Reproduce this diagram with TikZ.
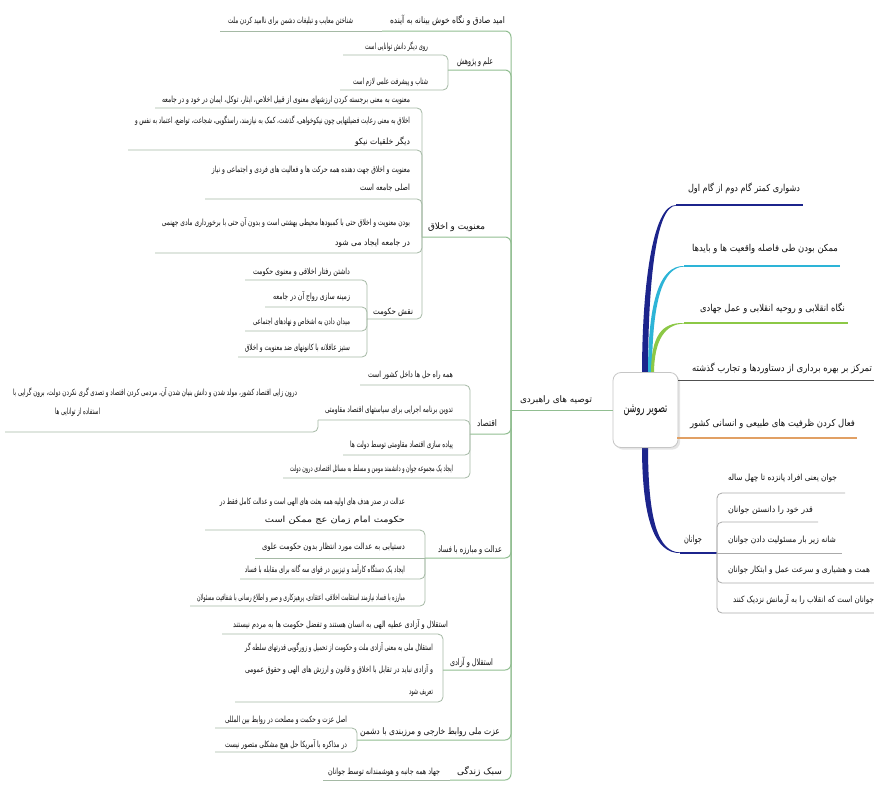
\documentclass[tikz,border=0pt]{standalone}
\usepackage{fontspec}
\usepackage{graphicx}
\newfontfamily\fafont[Script=Arabic]{DejaVu Sans}
\TeXXeTstate=1
\usetikzlibrary{shadows,backgrounds}
\definecolor{navy}{RGB}{28,36,140}
\definecolor{cyanl}{RGB}{45,180,215}
\definecolor{greenl}{RGB}{140,200,70}
\definecolor{grayd}{RGB}{80,80,80}
\definecolor{orangel}{RGB}{225,160,100}
\definecolor{tlc}{RGB}{145,190,145}
\definecolor{clc}{RGB}{165,185,165}
\definecolor{jlc}{RGB}{170,170,170}
\definecolor{tcol}{RGB}{15,15,15}
\newcommand{\ft}[2]{\resizebox{#1pt}{\height}{#2}}
\begin{document}
\begin{tikzpicture}[x=1pt,y=-1pt,
  txtbase/.style={inner sep=0pt, outer sep=0pt, text=tcol},
  ctxt/.style={txtbase, anchor=east, font=\fafont\fontsize{8.5}{10}\selectfont},
  ttxt/.style={txtbase, anchor=east, font=\fafont\fontsize{9}{11}\selectfont},
  rtxt/.style={txtbase, anchor=east, font=\fafont\fontsize{9.5}{11}\selectfont},
  ml/.style={align=right, font=\fafont\fontsize{8.5}{#1}\selectfont},
  tline/.style={draw=tlc, line width=1pt, rounded corners=6pt},
  cline/.style={draw=clc, line width=0.8pt, rounded corners=5pt},
  jline/.style={draw=jlc, line width=0.8pt, rounded corners=5pt}]
\useasboundingbox (0,0) rectangle (874,787);

% centre
\node[draw=gray!45, line width=0.8pt, fill=white, rounded corners=8pt, minimum width=65pt, minimum height=75pt, drop shadow={opacity=0.2}, inner sep=0pt, font=\fafont\fontsize{13}{15}\selectfont, text=tcol] (center) at (645.5,410) {\ft{44}{\beginR تصویر روشن\endR}};

% main left node
\coordinate (M-l) at (511,410);
\node[ttxt, anchor=center] (M) at (556,400) {\ft{72}{\beginR توصیه های راهبردی\endR}};
\draw[tline] (M-l) -- (center.west |- M-l);

% T1
\coordinate (T1-l) at (382,31);
\node[ttxt] (T1) at (505,20) {\ft{115}{\beginR امید صادق و نگاه خوش بینانه به آینده\endR}};
\draw[tline] (T1-l) -- (T1-l -| M-l) -- (M-l);
\coordinate (C11-l) at (220,31);
\node[ctxt] (C11) at (353,21) {\ft{125}{\beginR شناختن معایب و تبلیغات دشمن برای ناامید کردن ملت\endR}};
\draw[cline] (C11-l) -- (T1-l);

% T2
\coordinate (T2-l) at (448,70);
\node[ttxt] (T2) at (493,62) {\ft{36}{\beginR علم و پژوهش\endR}};
\draw[tline] (T2-l) -- (T2-l -| M-l) -- (M-l);
\coordinate (C21-l) at (343,55);
\node[ctxt] (C21) at (428,47) {\ft{63}{\beginR روی دیگر دانش توانایی است\endR}};
\draw[cline] (C21-l) -- (C21-l -| T2-l) -- (T2-l);
\coordinate (C22-l) at (340,90);
\node[ctxt] (C22) at (428,82) {\ft{75}{\beginR شتاب و پیشرفت علمی لازم است\endR}};
\draw[cline] (C22-l) -- (C22-l -| T2-l) -- (T2-l);

% T3
\coordinate (T3-l) at (422,237);
\node[ttxt] (T3) at (485,227) {\ft{57}{\beginR معنویت و اخلاق\endR}};
\draw[tline] (T3-l) -- (T3-l -| M-l) -- (M-l);
\coordinate (C31-l) at (155,108);
\node[ctxt] (C31) at (410,100) {\ft{248}{\beginR معنویت به معنی برجسته کردن ارزشهای معنوی از قبیل اخلاص، ایثار، توکل، ایمان در خود و در جامعه\endR}};
\draw[cline] (C31-l) -- (C31-l -| T3-l) -- (T3-l);
\coordinate (C32-l) at (128,150);
\node[ctxt, ml=21] (C32) at (410,131) {\ft{275}{\beginR اخلاق به معنی رعایت فضیلتهایی چون نیکوخواهی، گذشت، کمک به نیازمند، راستگویی، شجاعت، تواضع، اعتماد به نفس و\endR}\\\ft{55}{\beginR دیگر خلقیات نیکو\endR}};
\draw[cline] (C32-l) -- (C32-l -| T3-l) -- (T3-l);
\coordinate (C33-l) at (205,199);
\node[ctxt, ml=18] (C33) at (410,179) {\ft{198}{\beginR معنویت و اخلاق جهت دهنده همه حرکت ها و فعالیت های فردی و اجتماعی و نیاز\endR}\\\ft{50}{\beginR اصلی جامعه است\endR}};
\draw[cline] (C33-l) -- (C33-l -| T3-l) -- (T3-l);
\coordinate (C34-l) at (155,253);
\node[ctxt, ml=20] (C34) at (410,232.5) {\ft{248}{\beginR بودن معنویت و اخلاق حتی با کمبودها محیطی بهشتی است و بدون آن حتی با برخورداری مادی جهنمی\endR}\\\ft{75}{\beginR در جامعه ایجاد می شود\endR}};
\draw[cline] (C34-l) -- (C34-l -| T3-l) -- (T3-l);
\coordinate (C35-l) at (367,319);
\node[ctxt] (C35) at (413,312) {\ft{40}{\beginR نقش حکومت\endR}};
\draw[cline] (C35-l) -- (C35-l -| T3-l) -- (T3-l);
\coordinate (S1-l) at (245,280);
\node[ctxt] (S1) at (350,272) {\ft{97}{\beginR داشتن رفتار اخلاقی و معنوی حکومت\endR}};
\draw[cline] (S1-l) -- (S1-l -| C35-l) -- (C35-l);
\coordinate (S2-l) at (265,307);
\node[ctxt] (S2) at (350,297) {\ft{77}{\beginR زمینه سازی رواج آن در جامعه\endR}};
\draw[cline] (S2-l) -- (S2-l -| C35-l) -- (C35-l);
\coordinate (S3-l) at (245,331);
\node[ctxt] (S3) at (350,322) {\ft{97}{\beginR میدان دادن به اشخاص و نهادهای اجتماعی\endR}};
\draw[cline] (S3-l) -- (S3-l -| C35-l) -- (C35-l);
\coordinate (S4-l) at (238,357);
\node[ctxt] (S4) at (350,348) {\ft{105}{\beginR ستیز عاقلانه با کانونهای ضد معنویت و اخلاق\endR}};
\draw[cline] (S4-l) -- (S4-l -| C35-l) -- (C35-l);

% T4
\coordinate (T4-l) at (470,434);
\node[ttxt] (T4) at (497,423) {\ft{20}{\beginR اقتصاد\endR}};
\draw[tline] (T4-l) -- (T4-l -| M-l) -- (M-l);
\coordinate (C41-l) at (360,385);
\node[ctxt] (C41) at (453,375) {\ft{85}{\beginR همه راه حل ها داخل کشور است\endR}};
\draw[cline] (C41-l) -- (C41-l -| T4-l) -- (T4-l);
\coordinate (C42-l) at (318,420);
\node[ctxt] (C42) at (453,410) {\ft{128}{\beginR تدوین برنامه اجرایی برای سیاستهای اقتصاد مقاومتی\endR}};
\draw[cline] (C42-l) -- (C42-l -| T4-l) -- (T4-l);
\coordinate (L-l) at (5,432);
\node[txtbase, anchor=west, align=left, font=\fafont\fontsize{8.5}{19}\selectfont] (L) at (13,402.5) {\ft{284}{\beginR درون زایی اقتصاد کشور، مولد شدن و دانش بنیان شدن آن، مردمی کردن اقتصاد و تصدی گری نکردن دولت، برون گرایی با\endR}\\\hspace*{42pt}\ft{45}{\beginR استفاده از توانایی ها\endR}};
\draw[cline] (L-l) -- (L-l -| C42-l) -- (C42-l);
\coordinate (C43-l) at (343,455);
\node[ctxt] (C43) at (453,445) {\ft{103}{\beginR پیاده سازی اقتصاد مقاومتی توسط دولت ها\endR}};
\draw[cline] (C43-l) -- (C43-l -| T4-l) -- (T4-l);
\coordinate (C44-l) at (283,478);
\node[ctxt] (C44) at (453,469) {\ft{163}{\beginR ایجاد یک مجموعه جوان و دانشمند مومن و مسلط به مسائل اقتصادی درون دولت\endR}};
\draw[cline] (C44-l) -- (C44-l -| T4-l) -- (T4-l);

% T5
\coordinate (T5-l) at (425,558);
\node[ttxt] (T5) at (502,550) {\ft{64}{\beginR عدالت و مبارزه با فساد\endR}};
\draw[tline] (T5-l) -- (T5-l -| M-l) -- (M-l);
\coordinate (C51-l) at (205,530);
\node[ctxt, ml=18] (C51) at (405,511) {\ft{185}{\beginR عدالت در صدر هدف های اولیه همه بعثت های الهی است و عدالت کامل فقط در\endR}\\\ft{140}{\beginR حکومت امام زمان عج ممکن است\endR}};
\draw[cline] (C51-l) -- (C51-l -| T5-l) -- (T5-l);
\coordinate (C52-l) at (255,558);
\node[ctxt] (C52) at (405,547) {\ft{143}{\beginR دستیابی به عدالت مورد انتظار بدون حکومت علوی\endR}};
\draw[cline] (C52-l) -- (T5-l);
\coordinate (C53-l) at (240,579);
\node[ctxt] (C53) at (405,570) {\ft{160}{\beginR ایجاد یک دستگاه کارآمد و تیزبین در قوای سه گانه برای مقابله با فساد\endR}};
\draw[cline] (C53-l) -- (C53-l -| T5-l) -- (T5-l);
\coordinate (C54-l) at (190,606);
\node[ctxt] (C54) at (405,598) {\ft{208}{\beginR مبارزه با فساد نیازمند استقامت اخلاقی، اعتقادی، پرهیزکاری و صبر و اطلاع رسانی با شفافیت مسئولان\endR}};
\draw[cline] (C54-l) -- (C54-l -| T5-l) -- (T5-l);

% T6
\coordinate (T6-l) at (443,670);
\node[ttxt] (T6) at (493,662) {\ft{43}{\beginR استقلال و آزادی\endR}};
\draw[tline] (T6-l) -- (T6-l -| M-l) -- (M-l);
\coordinate (C61-l) at (222,634);
\node[ctxt] (C61) at (448,625) {\ft{215}{\beginR استقلال و آزادی عطیه الهی به انسان هستند و تفضل حکومت ها به مردم نیستند\endR}};
\draw[cline] (C61-l) -- (C61-l -| T6-l) -- (T6-l);
\coordinate (C62-l) at (235,702);
\node[ctxt, ml=22] (C62) at (433,670) {\ft{188}{\beginR استقلال ملی به معنی آزادی ملت و حکومت از تحمیل و زورگویی قدرتهای سلطه گر\endR}\\\ft{188}{\beginR و آزادی نباید در تقابل با اخلاق و قانون و ارزش های الهی و حقوق عمومی\endR}\\\ft{24}{\beginR تعریف شود\endR}};
\draw[cline] (C62-l) -- (C62-l -| T6-l) -- (T6-l);

% T7
\coordinate (T7-l) at (357,740);
\node[ttxt] (T7) at (500,732) {\ft{140}{\beginR عزت ملی روابط خارجی و مرزبندی با دشمن\endR}};
\draw[tline] (T7-l) -- (T7-l -| M-l) -- (M-l);
\coordinate (C71-l) at (215,728);
\node[ctxt] (C71) at (347,720) {\ft{122}{\beginR اصل عزت و حکمت و مصلحت در روابط بین المللی\endR}};
\draw[cline] (C71-l) -- (C71-l -| T7-l) -- (T7-l);
\coordinate (C72-l) at (215,752);
\node[ctxt] (C72) at (347,745) {\ft{122}{\beginR در مذاکره با آمریکا حل هیچ مشکلی متصور نیست\endR}};
\draw[cline] (C72-l) -- (C72-l -| T7-l) -- (T7-l);

% T8
\coordinate (T8-l) at (450,780);
\node[ttxt] (T8) at (502,772) {\ft{45}{\beginR سبک زندگی\endR}};
\draw[tline] (T8-l) -- (T8-l -| M-l) -- (M-l);
\coordinate (C81-l) at (323,780);
\node[ctxt] (C81) at (440,772) {\ft{112}{\beginR جهاد همه جانبه و هوشمندانه توسط جوانان\endR}};
\draw[cline] (C81-l) -- (T8-l);

% right side
\coordinate (R1-l) at (676,205); \coordinate (R1-r) at (803,205);
\node[rtxt] (R1) at (800,188) {\ft{112}{\beginR دشواری کمتر گام دوم از گام اول\endR}};
\draw[navy, line width=1.2pt] (R1-l) -- (R1-r);
\coordinate (R2-l) at (684,266); \coordinate (R2-r) at (840,266);
\node[rtxt] (R2) at (838,249) {\ft{146}{\beginR ممکن بودن طی فاصله واقعیت ها و بایدها\endR}};
\draw[cyanl, line width=1.1pt] (R2-l) -- (R2-r);
\coordinate (R3-l) at (684,323); \coordinate (R3-r) at (848,323);
\node[rtxt] (R3) at (845,308) {\ft{145}{\beginR نگاه انقلابی و روحیه انقلابی و عمل جهادی\endR}};
\draw[greenl, line width=1.1pt] (R3-l) -- (R3-r);
\coordinate (R4-r) at (874,380);
\node[rtxt] (R4) at (872,368) {\ft{180}{\beginR تمرکز بر بهره برداری از دستاوردها و تجارب گذشته\endR}};
\draw[grayd, line width=1pt] (center.east |- R4-r) -- (R4-r);
\coordinate (R5-r) at (857,438);
\node[rtxt] (R5) at (855,424) {\ft{165}{\beginR فعال کردن ظرفیت های طبیعی و انسانی کشور\endR}};
\draw[orangel, line width=1.1pt] ([xshift=-1pt]center.east |- R5-r) -- (R5-r);
\coordinate (R6-l) at (680,553); \coordinate (R6-r) at (717,553);
\node[rtxt] (R6) at (702,540) {\ft{18}{\beginR جوانان\endR}};
\draw[navy, line width=1.2pt] (R6-l) -- (R6-r);

\begin{scope}[on background layer]
\fill[white] (0,0) rectangle (874,787);
\fill[navy] (642,374) .. controls (642,290) and (652,204.4) .. (R1-l) -- (676,205.6) .. controls (655,206) and (648,290) .. (648,374) -- cycle;
\fill[cyanl] (648,374) .. controls (648,300) and (660,265.4) .. (R2-l) -- (684,266.6) .. controls (663,267) and (652,300) .. (652,374) -- cycle;
\fill[greenl] (651,374) .. controls (651,335) and (662,322.4) .. (R3-l) -- (684,323.6) .. controls (665,324) and (654,340) .. (654,374) -- cycle;
\fill[navy] (642,446) .. controls (642,520) and (655,553.6) .. (R6-l) -- (680,552.4) .. controls (658,552) and (648,520) .. (648,446) -- cycle;
\end{scope}

\coordinate (J1-r) at (845,493);
\node[ctxt] (J1) at (837,478) {\ft{109}{\beginR جوان یعنی افراد پانزده تا چهل ساله\endR}};
\draw[jline] (R6-r) -- (R6-r |- J1-r) -- (J1-r);
\coordinate (J2-r) at (818,522);
\node[ctxt] (J2) at (813,510) {\ft{85}{\beginR قدر خود را دانستن جوانان\endR}};
\draw[jline] (R6-r) -- (R6-r |- J2-r) -- (J2-r);
\coordinate (J3-r) at (842,553);
\node[ctxt] (J3) at (836,540) {\ft{108}{\beginR شانه زیر بار مسئولیت دادن جوانان\endR}};
\draw[jline] (R6-r) -- (J3-r);
\coordinate (J4-r) at (874,583);
\node[ctxt] (J4) at (870,570) {\ft{142}{\beginR همت و هشیاری و سرعت عمل و ابتکار جوانان\endR}};
\draw[jline] (R6-r) -- (R6-r |- J4-r) -- (J4-r);
\coordinate (J5-r) at (874,613);
\node[ctxt] (J5) at (874,600) {\ft{141}{\beginR جوانان است که انقلاب را به آرمانش نزدیک کنند\endR}};
\draw[jline] (R6-r) -- (R6-r |- J5-r) -- (J5-r);
\end{tikzpicture}
\end{document}
